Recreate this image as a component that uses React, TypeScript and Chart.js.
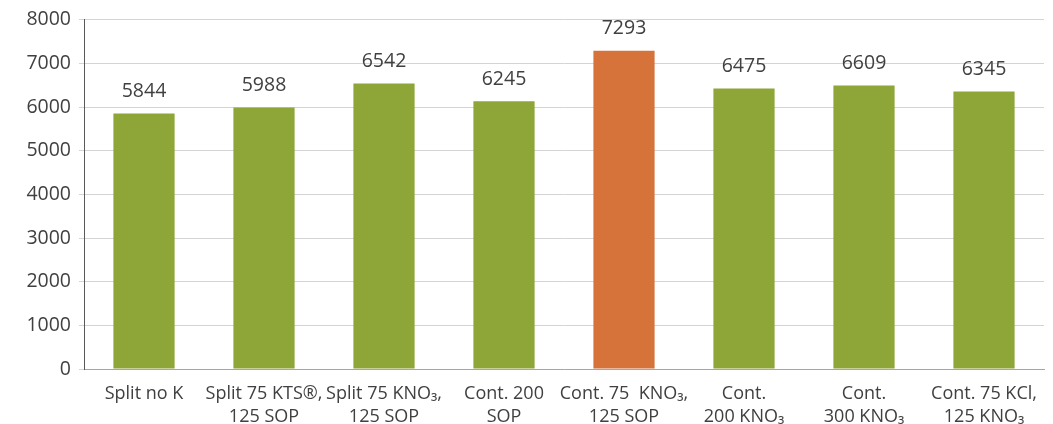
import React, { useEffect, useRef } from "react";
import { Chart, registerables } from "chart.js";

Chart.register(...registerables);

const categories: string[][] = [
  ["Split no K"],
  ["Split 75 KTS®,", "125 SOP"],
  ["Split 75 KNO₃,", "125 SOP"],
  ["Cont. 200", "SOP"],
  ["Cont. 75  KNO₃,", "125 SOP"],
  ["Cont.", "200 KNO₃"],
  ["Cont.", "300 KNO₃"],
  ["Cont. 75 KCl,", "125 KNO₃"],
];

// bar heights as drawn in the picture
const barHeights: number[] = [5850, 5990, 6540, 6130, 7290, 6425, 6495, 6355];
// numbers printed above the bars
const valueLabels: string[] = ["5844", "5988", "6542", "6245", "7293", "6475", "6609", "6345"];
const highlighted: boolean[] = [false, false, false, false, true, false, false, false];

const yTicks = { min: 0, max: 8000, step: 1000 };

const GREEN = "#8EA537";
const ORANGE = "#D5733B";
const FONT = '"Open Sans", "DejaVu Sans", sans-serif';
const NUM_FS = 19.5;
const CAT_FS = 18;
const TEXT = "#404040";

const valueLabelPlugin = {
  id: "valueLabels",
  afterDatasetsDraw(chart: any) {
    const ctx = chart.ctx;
    const meta = chart.getDatasetMeta(0);
    ctx.save();
    ctx.font = `${NUM_FS}px ${FONT}`;
    ctx.fillStyle = TEXT;
    ctx.textAlign = "center";
    ctx.textBaseline = "middle";
    meta.data.forEach((bar: any, i: number) => {
      ctx.fillText(valueLabels[i], bar.x, bar.y - 22);
    });
    ctx.restore();
  },
};

export default function App() {
  const ref = useRef<HTMLCanvasElement | null>(null);

  useEffect(() => {
    if (!ref.current) return;
    const chart = new Chart(ref.current, {
      type: "bar",
      data: {
        labels: categories,
        datasets: [
          {
            data: barHeights,
            backgroundColor: highlighted.map((h) => (h ? ORANGE : GREEN)),
            borderWidth: 0,
            barPercentage: 1,
            categoryPercentage: 0.51,
          },
        ],
      },
      options: {
        responsive: false,
        animation: false,
        layout: { padding: { top: 19, right: 9, bottom: 0, left: 0 } },
        plugins: {
          legend: { display: false },
          tooltip: { enabled: false },
        },
        scales: {
          x: {
            grid: { display: false },
            border: { display: true, color: "#a6a6a6", width: 1 },
            ticks: {
              color: TEXT,
              font: { family: FONT, size: CAT_FS, lineHeight: 1.28 },
              padding: 5,
              maxRotation: 0,
              minRotation: 0,
              autoSkip: false,
            },
            afterFit: (scale: any) => {
              scale.height = 55;
            },
          },
          y: {
            min: yTicks.min,
            max: yTicks.max,
            grid: {
              color: "#d4d4d4",
              lineWidth: 1,
              drawTicks: true,
              tickLength: 5,
            },
            border: { display: true, color: "#595959", width: 1 },
            ticks: {
              stepSize: yTicks.step,
              color: TEXT,
              font: { family: FONT, size: NUM_FS },
              padding: 8,
              callback: (v: any) => String(v),
            },
            afterFit: (scale: any) => {
              scale.width = 84;
            },
          },
        },
      },
      plugins: [valueLabelPlugin],
    });
    return () => chart.destroy();
  }, []);

  return (
    <div style={{ position: "fixed", left: 0, top: 0, width: 1053, height: 424, background: "#fff" }}>
      <canvas ref={ref} width={1053} height={424} />
    </div>
  );
}
